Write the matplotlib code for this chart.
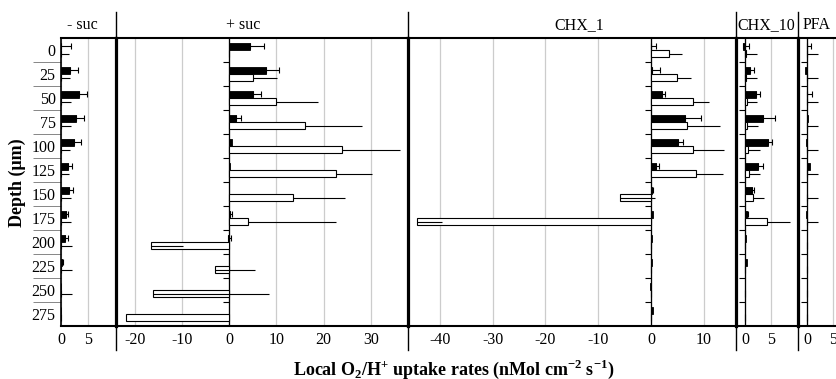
import numpy as np
import matplotlib
matplotlib.use("Agg")
import matplotlib.pyplot as plt
from matplotlib.lines import Line2D

plt.rcParams['font.family'] = 'Liberation Serif'
plt.rcParams['mathtext.fontset'] = 'custom'
plt.rcParams['mathtext.rm'] = 'Liberation Serif'
plt.rcParams['mathtext.bf'] = 'Liberation Serif:bold'
plt.rcParams['axes.unicode_minus'] = False

# depth categories (um)
depths = [0, 25, 50, 75, 100, 125, 150, 175, 200, 225, 250, 275]

# panel names
panels = ["- suc", "+ suc", "CHX_1", "CHX_10", "PFA"]

# black bars (O2 uptake) and one-sided errors
minus_suc_black = [0.0, 1.6, 3.2, 2.7, 2.3, 1.3, 1.4, 0.8, 0.6, 0.1, 0.0, 0.0]
minus_suc_black_err = [1.7, 1.4, 1.6, 1.4, 1.3, 0.6, 0.8, 0.5, 0.6, 0.2, 0.0, 0.0]
plus_suc_black = [4.4, 7.7, 5.1, 1.5, 0.6, 0.2, 0.0, 0.2, -0.3, 0.0, 0.0, 0.0]
plus_suc_black_err = [2.9, 2.9, 1.6, 1.0, 0.0, 0.0, 0.0, 0.3, 0.6, 0.0, 0.0, 0.0]
chx1_black = [0.0, 0.1, 2.1, 6.4, 5.1, 1.0, 0.1, 0.3, 0.1, 0.2, -0.2, 0.3]
chx1_black_err = [1.0, 1.7, 0.6, 3.0, 1.0, 0.5, 0.3, 0.0, 0.0, 0.0, 0.0, 0.0]
chx10_black = [-0.3, 1.0, 2.0, 3.5, 4.4, 2.5, 1.3, 0.4, 0.15, 0.3, 0.0, 0.0]
chx10_black_err = [1.1, 0.8, 0.8, 2.2, 0.8, 1.0, 0.5, 0.2, 0.0, 0.0, 0.0, 0.0]
pfa_black = [0.0, -0.5, 0.0, 0.2, -0.3, 0.5, 0.0, -0.2, 0.0, 0.0, 0.0, 0.0]
pfa_black_err = [0.8, 0.0, 1.0, 0.0, 0.0, 0.0, 0.0, 0.0, 0.0, 0.0, 0.0, 0.0]

# white bars (H+ uptake) and one-sided errors
minus_suc_white = [0.0] * 12
minus_suc_white_err = [1.4, 1.6, 1.8, 1.8, 1.6, 1.5, 1.7, 1.8, 1.9, 1.9, 1.9, 0.0]
plus_suc_white = [0.0, 5.1, 10.0, 16.1, 23.9, 22.6, 13.5, 3.9, -16.6, -3.0, -16.1, -21.8]
plus_suc_white_err = [0.0, 5.0, 8.9, 12.1, 12.3, 7.7, 11.0, 18.7, 6.9, 8.5, 24.6, 0.0]
chx1_white = [3.4, 4.9, 7.9, 6.9, 7.9, 8.5, -5.8, -44.3, 0.0, 0.0, 0.0, 0.0]
chx1_white_err = [2.5, 2.7, 3.1, 6.2, 5.9, 5.2, 6.6, 4.8, 0.0, 0.0, 0.0, 0.0]
chx10_white = [0.25, 0.1, 0.3, 0.4, 0.6, 0.8, 1.5, 4.1, 0.0, 0.0, 0.0, 0.0]
chx10_white_err = [1.95, 2.1, 1.9, 2.0, 2.2, 2.0, 2.2, 4.4, 0.0, 0.0, 0.0, 0.0]
pfa_white = [0.0] * 12
pfa_white_err = [2.0, 2.0, 2.0, 2.0, 2.0, 2.0, 2.0, 2.0, 0.0, 0.0, 0.0, 0.0]

blacks = [minus_suc_black, plus_suc_black, chx1_black, chx10_black, pfa_black]
black_errs = [minus_suc_black_err, plus_suc_black_err, chx1_black_err, chx10_black_err, pfa_black_err]
whites = [minus_suc_white, plus_suc_white, chx1_white, chx10_white, pfa_white]
white_errs = [minus_suc_white_err, plus_suc_white_err, chx1_white_err, chx10_white_err, pfa_white_err]

# axis settings per panel
xlims = [(0, 10.1), (-24, 37.8), (-46.1, 16.0), (-1.8, 10), (-1.8, 5.5)]
xticks = [[0, 5], [-20, -10, 0, 10, 20, 30], [-40, -30, -20, -10, 0, 10], [0, 5], [0, 5]]
title_x = [0.39, 0.437, 0.523, 0.49, 0.49]

W, H = 836, 379
fig = plt.figure(figsize=(W / 100, H / 100), dpi=100)

# panel edges in pixels
edges = [61.3, 116, 407.5, 735.5, 797.7, 836]
top, bottom = 38, 326
ax_h = (bottom - top) / H

n = len(depths)
ypos = np.arange(n)
bounds = np.arange(n - 1) + 0.5
bh = 0.3

for i in range(len(panels)):
    left = edges[i] / W
    width = (edges[i + 1] - edges[i]) / W
    ax = fig.add_axes([left, 1 - bottom / H, width, ax_h])

    ax.set_xlim(xlims[i])
    ax.set_ylim(n - 0.5, -0.5)
    ax.set_xticks(xticks[i])
    ax.xaxis.grid(True, color='0.8', lw=0.9)
    ax.set_axisbelow(True)
    ax.tick_params(axis='x', length=0, pad=4, labelsize=11.5)

    bk = np.array(blacks[i])
    wh = np.array(whites[i])
    bke = np.array(black_errs[i])
    whe = np.array(white_errs[i])

    if i > 0:
        ax.axvline(0, color='k', lw=0.9, zorder=1.5)
        ax.plot(np.zeros(len(bounds)), bounds, ls='none', marker=0, ms=4,
                mew=0.8, color='k', zorder=1.5)

    ax.barh(ypos - bh / 2, bk, height=bh, color='k', edgecolor='k', lw=0.6, zorder=2)
    ax.barh(ypos + bh / 2, wh, height=bh, color='white', edgecolor='k', lw=0.8, zorder=2)

    m = bke > 0
    ax.errorbar(bk[m], (ypos - bh / 2)[m], xerr=[np.zeros(m.sum()), bke[m]],
                fmt='none', ecolor='k', elinewidth=0.8, capsize=2.5, capthick=0.8, zorder=3)
    m = whe > 0
    ax.errorbar(wh[m], (ypos + bh / 2)[m], xerr=[np.zeros(m.sum()), whe[m]],
                fmt='none', ecolor='k', elinewidth=0.8, capsize=0, zorder=3)

    for s in ['top', 'bottom']:
        ax.spines[s].set_linewidth(1.5)
    ax.spines['right'].set_visible(False)

    if i == 0:
        ax.spines['left'].set_linewidth(1.2)
        ax.set_yticks(ypos)
        ax.set_yticklabels([str(d) for d in depths], fontsize=11.5)
        ax.set_yticks(bounds, minor=True)
        ax.tick_params(axis='y', which='major', length=0, pad=4)
        ax.tick_params(axis='y', which='minor', length=20, width=0.6, color='0.45')
    else:
        ax.spines['left'].set_linewidth(2.3)
        ax.set_yticks([])
        ext_up = 26 / (bottom - top)
        ext_dn = 24 / (bottom - top)
        ax.add_line(Line2D([0, 0], [1, 1 + ext_up], transform=ax.transAxes,
                           color='k', lw=1.0, clip_on=False))
        ax.add_line(Line2D([0, 0], [-ext_dn, 0], transform=ax.transAxes,
                           color='k', lw=1.0, clip_on=False))

    ax.text(title_x[i], 1 + 13 / (bottom - top), panels[i], transform=ax.transAxes,
            ha='center', va='center', fontsize=11.5)

fig.text(17.5 / W, 1 - 183 / H, 'Depth (\u03bcm)', rotation=90, ha='center', va='center',
         fontsize=13, fontweight='bold')
fig.text(454 / W, 1 - 369 / H,
         r'Local O$_\mathbf{2}$/H$^\mathbf{+}$ uptake rates (nMol cm$^\mathbf{-2}$ s$^\mathbf{-1}$)',
         ha='center', va='center', fontsize=13, fontweight='bold')

fig.savefig('out.png', dpi=100)
